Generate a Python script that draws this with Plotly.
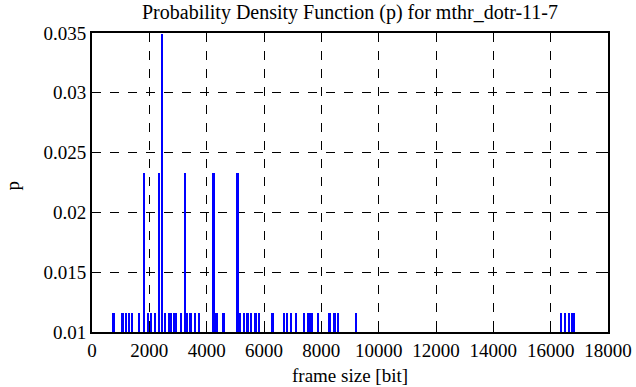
import plotly.graph_objects as go

# frame sizes [bit] and probability values
short_x = [757, 1075, 1187, 1308, 1413, 1640, 1955, 2070, 2210, 2547, 2687, 2774, 2861, 2948,
           3123, 3326, 3448, 3594, 3740, 4290, 4360, 4595, 5164, 5304, 5432, 5548, 5712, 5845,
           6307, 6717, 6804, 6940, 7115, 7397, 7560, 7665, 7886, 8293, 8467, 8593, 9211,
           16364, 16504, 16660, 16747, 16817]
short_p = [0.01163] * len(short_x)
tall_x = [1814, 2338, 3245, 4246, 5084]
tall_p = [0.02326] * len(tall_x)
peak_x = [2442]
peak_p = [0.03488]

xs = short_x + tall_x + peak_x
ps = short_p + tall_p + peak_p

x_ticks = list(range(0, 18001, 2000))
y_ticks = [0.01, 0.015, 0.02, 0.025, 0.03, 0.035]
y_tick_text = ["0.01", "0.015", "0.02", "0.025", "0.03", "0.035"]

fig = go.Figure()
fig.add_trace(go.Bar(x=xs, y=ps, width=60, marker=dict(color="#0000ff", line=dict(width=0)),
                     showlegend=False, hoverinfo="skip"))

font = "Liberation Serif"
fs = 19
axis_common = dict(showline=True, linecolor="black", linewidth=2, mirror="allticks",
                   ticks="inside", ticklen=7, tickwidth=1, tickcolor="black",
                   showgrid=True, gridcolor="black", gridwidth=1, griddash="dash",
                   zeroline=False, automargin=False,
                   tickfont=dict(family=font, size=fs, color="black"))

fig.update_layout(
    width=636, height=387,
    margin=dict(l=92, r=28, t=33, b=55, autoexpand=False),
    paper_bgcolor="white", plot_bgcolor="white",
    xaxis=dict(range=[0, 18000], tickvals=x_ticks, ticktext=[str(v) for v in x_ticks],
               **axis_common),
    yaxis=dict(range=[0.01, 0.035], tickvals=y_ticks, ticktext=y_tick_text,
               **axis_common),
    bargap=0,
    annotations=[
        dict(text="Probability Density Function (p) for mthr_dotr-11-7", xref="paper", yref="paper",
             x=0.5, y=1.070, xanchor="center", yanchor="middle", showarrow=False,
             font=dict(family=font, size=20, color="black")),
        dict(text="frame size [bit]", xref="paper", yref="paper",
             x=0.5, y=-0.147, xanchor="center", yanchor="middle", showarrow=False,
             font=dict(family=font, size=fs, color="black")),
        dict(text="p", xref="paper", yref="paper", textangle=-90,
             x=-0.155, y=0.49, xanchor="center", yanchor="middle", showarrow=False,
             font=dict(family=font, size=fs, color="black")),
    ],
)
fig.write_html("out.html", config={"displayModeBar": False},
               post_script="document.body.style.margin='0';document.body.style.overflow='hidden';")
